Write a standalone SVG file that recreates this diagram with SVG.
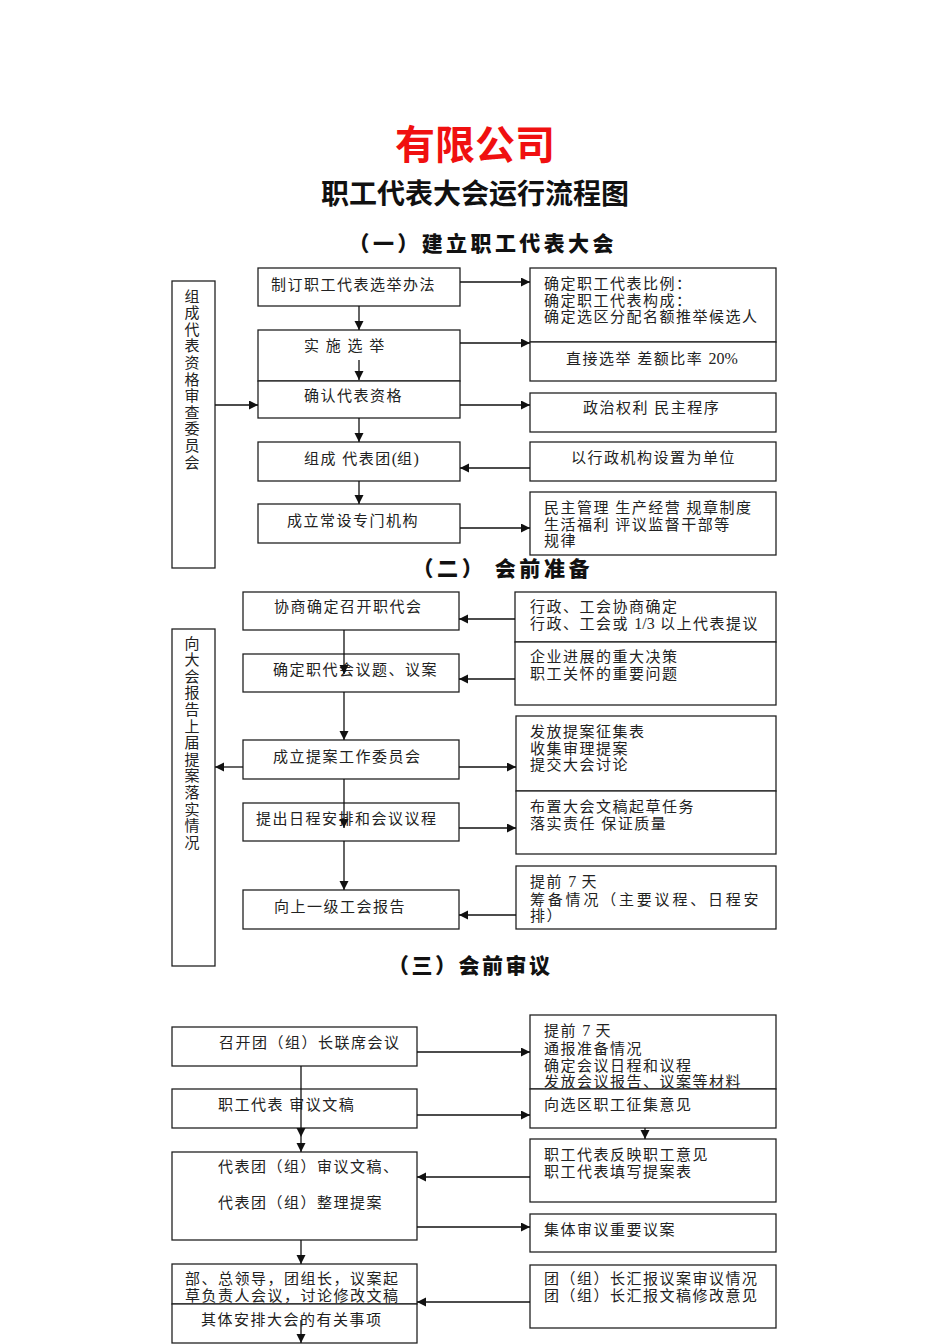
<svg xmlns="http://www.w3.org/2000/svg" width="950" height="1344" viewBox="0 0 950 1344">
<style>
.bx{fill:#fff;stroke:#222;stroke-width:1.3}
.t{font-family:"Liberation Serif","Noto Sans CJK SC",serif;font-size:15px;letter-spacing:1.5px;fill:#222}
.l{letter-spacing:0;font-size:16px}
.v{font-family:"Noto Sans CJK SC",sans-serif;font-size:15px;fill:#222;writing-mode:vertical-rl;letter-spacing:1.6px}
.h{font-family:"Noto Sans CJK SC",sans-serif;font-weight:900;fill:#111;text-anchor:middle}
.c{fill:none;stroke:#111;stroke-width:1.3;marker-end:url(#ah)}
</style>
<defs>
<marker id="ah" markerUnits="userSpaceOnUse" markerWidth="10" markerHeight="10" refX="9" refY="4.5" orient="auto">
<path d="M0,0 L9,4.5 L0,9 z" fill="#111"/>
</marker>
</defs>
<rect width="950" height="1344" fill="#fff"/>

<g id="titles">
<text x="475" y="159" class="h" style="font-size:40px;fill:#f01010;font-weight:700">有限公司</text>
<text x="475" y="204" class="h" style="font-size:28px;font-weight:700">职工代表大会运行流程图</text>
<text x="481" y="251" class="h" style="font-size:21px" textLength="265" lengthAdjust="spacing">（一）建立职工代表大会</text>
<text x="501" y="576" class="h" style="font-size:21px" textLength="177" lengthAdjust="spacing">（二） 会前准备</text>
<text x="469" y="973" class="h" style="font-size:21px" textLength="162" lengthAdjust="spacing">（三）会前审议</text>
</g>

<!-- Section 1 -->
<g id="n-committee1"><rect class="bx" x="172" y="281" width="43" height="287"/>
<text class="v" x="192" y="288.5">组成代表资格审查委员会</text></g>
<g id="n-rules"><rect class="bx" x="258" y="268" width="202" height="38"/><text class="t" x="271" y="290">制订职工代表选举办法</text></g>
<g id="n-elect"><rect class="bx" x="258" y="330" width="202" height="51"/><text class="t" x="304" y="351">实 施 选 举</text></g>
<g id="n-confirm"><rect class="bx" x="258" y="381" width="202" height="37"/><text class="t" x="304" y="401">确认代表资格</text></g>
<g id="n-group"><rect class="bx" x="258" y="442" width="202" height="39"/><text class="t" x="304" y="464">组成 代表团<tspan class="l">(</tspan>组<tspan class="l">)</tspan></text></g>
<g id="n-standing"><rect class="bx" x="258" y="504" width="202" height="39"/><text class="t" x="287" y="526">成立常设专门机构</text></g>
<g id="n-ratio"><rect class="bx" x="530" y="268" width="246" height="74"/>
<text class="t"><tspan x="544" y="289">确定职工代表比例：</tspan><tspan x="544" y="305.5">确定职工代表构成：</tspan><tspan x="544" y="322">确定选区分配名额推举候选人</tspan></text></g>
<g id="n-direct"><rect class="bx" x="530" y="342" width="246" height="39"/><text class="t" x="566" y="364">直接选举  差额比率 <tspan class="l">20%</tspan></text></g>
<g id="n-rights"><rect class="bx" x="530" y="393" width="246" height="39"/><text class="t" x="583" y="413">政治权利  民主程序</text></g>
<g id="n-unit"><rect class="bx" x="530" y="442" width="246" height="39"/><text class="t" x="571" y="463">以行政机构设置为单位</text></g>
<g id="n-areas"><rect class="bx" x="530" y="492" width="246" height="63"/>
<text class="t"><tspan x="544" y="513">民主管理 生产经营 规章制度</tspan><tspan x="544" y="529.5">生活福利 评议监督干部等</tspan><tspan x="544" y="546">规律</tspan></text></g>

<!-- Section 2 -->
<g id="n-report-prev"><rect class="bx" x="172" y="629" width="43" height="337"/>
<text class="v" x="192" y="635.5">向大会报告上届提案落实情况</text></g>
<g id="n-consult"><rect class="bx" x="243" y="592" width="216" height="38"/><text class="t" x="274" y="612">协商确定召开职代会</text></g>
<g id="n-topics"><rect class="bx" x="243" y="654" width="216" height="38"/><text class="t" x="273" y="675">确定职代会议题、议案</text></g>
<g id="n-proposal"><rect class="bx" x="243" y="740" width="216" height="39"/><text class="t" x="273" y="762">成立提案工作委员会</text></g>
<g id="n-agenda"><rect class="bx" x="243" y="803" width="216" height="38"/><text class="t" x="256" y="824">提出日程安排和会议议程</text></g>
<g id="n-upper"><rect class="bx" x="243" y="890" width="216" height="39"/><text class="t" x="274" y="912">向上一级工会报告</text></g>
<g id="n-admin"><rect class="bx" x="515" y="592" width="261" height="50"/>
<text class="t"><tspan x="530" y="612">行政、工会协商确定</tspan><tspan x="530" y="629">行政、工会或 <tspan class="l">1/3</tspan> 以上代表提议</tspan></text></g>
<g id="n-decisions"><rect class="bx" x="515" y="642" width="261" height="63"/>
<text class="t"><tspan x="530" y="662">企业进展的重大决策</tspan><tspan x="530" y="679">职工关怀的重要问题</tspan></text></g>
<g id="n-collect"><rect class="bx" x="516" y="716" width="260" height="75"/>
<text class="t"><tspan x="530" y="737">发放提案征集表</tspan><tspan x="530" y="754">收集审理提案</tspan><tspan x="530" y="770">提交大会讨论</tspan></text></g>
<g id="n-draft"><rect class="bx" x="516" y="791" width="260" height="63"/>
<text class="t"><tspan x="530" y="812">布置大会文稿起草任务</tspan><tspan x="530" y="829">落实责任  保证质量</tspan></text></g>
<g id="n-7days"><rect class="bx" x="516" y="866" width="260" height="63"/>
<text class="t"><tspan x="530" y="887">提前 <tspan class="l">7</tspan> 天</tspan><tspan x="530" y="905" letter-spacing="2.8">筹备情况（主要议程、日程安</tspan><tspan x="530" y="921">排）</tspan></text></g>

<!-- Section 3 -->
<g id="n-leaders"><rect class="bx" x="172" y="1027" width="245" height="39"/><text class="t" x="219" y="1048">召开团（组）长联席会议</text></g>
<g id="n-review"><rect class="bx" x="172" y="1089" width="245" height="39"/><text class="t" x="218" y="1110">职工代表  审议文稿</text></g>
<g id="n-delegation"><rect class="bx" x="172" y="1152" width="245" height="88"/>
<text class="t"><tspan x="218" y="1172">代表团（组）审议文稿、</tspan><tspan x="218" y="1208">代表团（组）整理提案</tspan></text></g>
<g id="n-meeting"><rect class="bx" x="172" y="1264" width="245" height="40"/>
<text class="t"><tspan x="185" y="1284">部、总领导，团组长，议案起</tspan><tspan x="185" y="1301">草负责人会议，讨论修改文稿</tspan></text></g>
<g id="n-arrange"><rect class="bx" x="172" y="1304" width="245" height="39"/><text class="t" x="201" y="1325">其体安排大会的有关事项</text></g>
<g id="n-notice"><rect class="bx" x="530" y="1015" width="246" height="74"/>
<text class="t"><tspan x="544" y="1036">提前 <tspan class="l">7</tspan> 天</tspan><tspan x="544" y="1054">通报准备情况</tspan><tspan x="544" y="1071">确定会议日程和议程</tspan><tspan x="544" y="1087">发放会议报告、议案等材料</tspan></text></g>
<g id="n-opinions"><rect class="bx" x="530" y="1089" width="246" height="39"/><text class="t" x="544" y="1110">向选区职工征集意见</text></g>
<g id="n-feedback"><rect class="bx" x="530" y="1139" width="246" height="63"/>
<text class="t"><tspan x="544" y="1160">职工代表反映职工意见</tspan><tspan x="544" y="1177">职工代表填写提案表</tspan></text></g>
<g id="n-collective"><rect class="bx" x="530" y="1214" width="246" height="38"/><text class="t" x="544" y="1235">集体审议重要议案</text></g>
<g id="n-heads"><rect class="bx" x="530" y="1265" width="246" height="63"/>
<text class="t"><tspan x="544" y="1284">团（组）长汇报议案审议情况</tspan><tspan x="544" y="1301">团（组）长汇报文稿修改意见</tspan></text></g>

<g id="connectors">
<path class="c" d="M460,282 H530"/>
<path class="c" d="M359,306 V330"/>
<path class="c" d="M460,343 H530"/>
<path class="c" d="M359,360 V380"/>
<path class="c" d="M215,405 H258"/>
<path class="c" d="M460,405 H530"/>
<path class="c" d="M359,418 V442"/>
<path class="c" d="M530,468 H460"/>
<path class="c" d="M359,481 V504"/>
<path class="c" d="M460,528 H530"/>

<path class="c" d="M515,619 H459"/>
<path class="c" d="M515,679 H459"/>
<path class="c" d="M344,630 V674"/>
<path class="c" d="M344,692 V740"/>
<path class="c" d="M243,767 H215"/>
<path class="c" d="M459,767 H516"/>
<path class="c" d="M344,779 V828"/>
<path class="c" d="M459,828 H516"/>
<path class="c" d="M344,841 V890"/>
<path class="c" d="M516,915 H459"/>

<path class="c" d="M417,1052 H530"/>
<path class="c" d="M417,1115 H530"/>
<path class="c" d="M301,1066 V1137"/>
<path class="c" d="M301,1137 V1152"/>
<path class="c" d="M645,1128 V1139"/>
<path class="c" d="M530,1177 H417"/>
<path class="c" d="M417,1227 H530"/>
<path class="c" d="M301,1240 V1264"/>
<path class="c" d="M530,1302 H417"/>
<path class="c" d="M301,1320 V1343"/>
</g>
</svg>
